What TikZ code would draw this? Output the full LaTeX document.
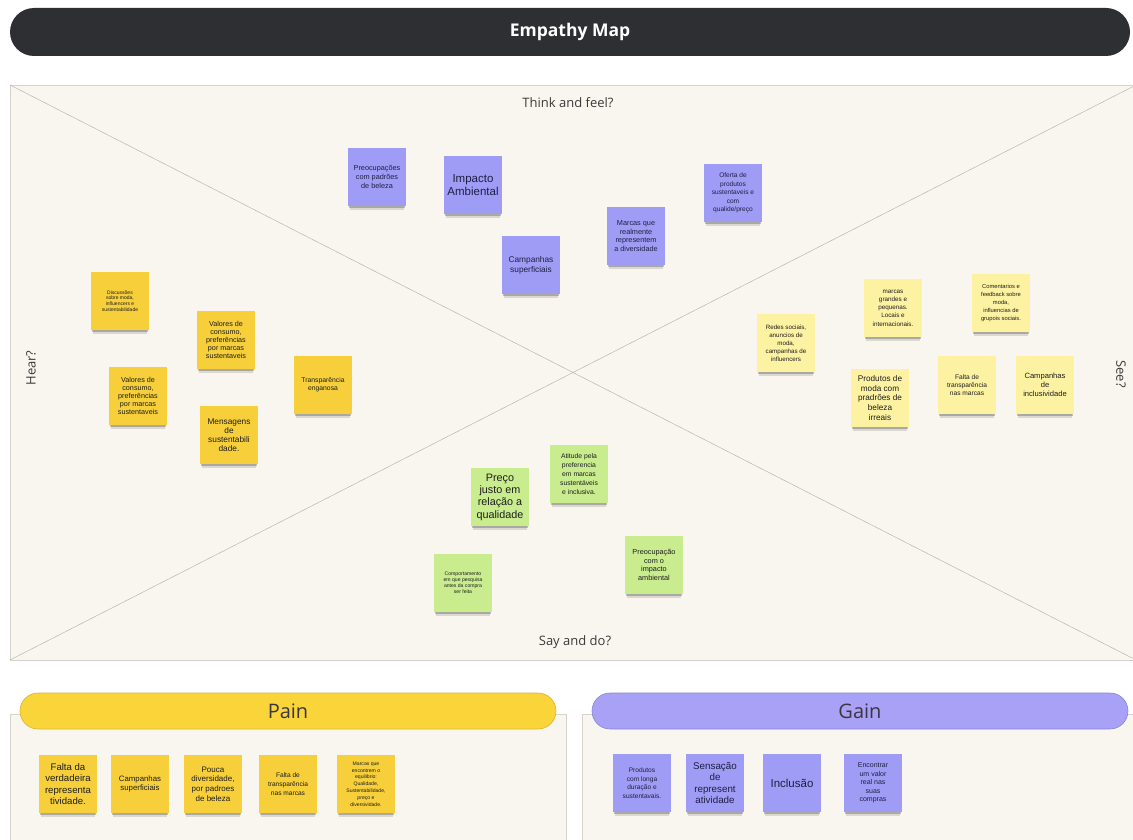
\documentclass[tikz,border=0pt]{standalone}
\usepackage{fontspec}
\setmainfont{Liberation Sans}
\newfontfamily\uifont{Open Sans}
\usetikzlibrary{shadows}

\definecolor{barDark}{HTML}{2E2F33}
\definecolor{board}{HTML}{F9F6EF}
\definecolor{boardLine}{HTML}{D6D3CC}
\definecolor{diagLine}{HTML}{B9B6AF}
\definecolor{labelInk}{HTML}{3A3A3A}
\definecolor{noteLav}{HTML}{9E9CF4}
\definecolor{noteYel}{HTML}{F6CF3A}
\definecolor{notePale}{HTML}{FCF2A2}
\definecolor{noteGrn}{HTML}{C8EC8E}
\definecolor{inkLav}{HTML}{1F1F45}
\definecolor{inkDark}{HTML}{1E1E1E}
\definecolor{painFill}{HTML}{F9D53A}
\definecolor{painEdge}{HTML}{D8B42C}
\definecolor{gainFill}{HTML}{A9A1F6}
\definecolor{gainEdge}{HTML}{8A83D6}
\definecolor{headInk}{HTML}{3A3640}

\begin{document}
\begin{tikzpicture}[x=1pt,y=-1pt,
  note/.style={minimum width=58pt,minimum height=58pt,inner sep=1pt,align=center,
    drop shadow={shadow xshift=0pt,shadow yshift=-6.5pt,shadow scale=0.92,opacity=0.12,fill=black},
    drop shadow={shadow xshift=0pt,shadow yshift=-4pt,shadow scale=0.95,opacity=0.22,fill=black}},
  lav/.style={note,fill=noteLav,text=inkLav},
  yel/.style={note,fill=noteYel,text=inkDark},
  pale/.style={note,fill=notePale,text=inkDark},
  grn/.style={note,fill=noteGrn,text=inkDark},
  fs/.style n args={2}{font=\fontsize{#1}{#2}\selectfont},
  quad/.style={font=\uifont\fontsize{13}{15}\selectfont,text=labelInk},
  panel/.style={fill=board,draw=boardLine,line width=0.6pt},
  edge/.style={draw=boardLine,line width=0.6pt},
  header/.style={minimum width=536pt,minimum height=36pt,rounded corners=18pt,line width=0.6pt,
    font=\uifont\fontsize{20}{22}\selectfont,text=headInk},
]
\clip (0,0) rectangle (1133,840);
\fill[white] (0,0) rectangle (1133,840);

% title bar
\node (title) [fill=barDark,minimum width=1120pt,minimum height=48pt,rounded corners=24pt,
  text=white,font=\uifont\bfseries\fontsize{17.5}{19}\selectfont] at (570,32) {Empathy Map};

% main board with its two diagonals
\draw[panel] (10,85) rectangle (1136,660);
\coordinate (tl) at (10,85);
\coordinate (tr) at (1136,85);
\coordinate (bl) at (10,660);
\coordinate (br) at (1136,660);
\draw[diagLine,line width=0.5pt] (tl) -- (br);
\draw[diagLine,line width=0.5pt] (bl) -- (tr);

% quadrant captions
\node (think) [quad] at (568,103) {Think and feel?};
\node (say)   [quad] at (575,642) {Say and do?};
\node (hear)  [quad,rotate=90]  at (31,368) {Hear?};
\node (see)   [quad,rotate=-90] at (1121,374) {See?};

% think and feel
\node (t1) [lav,fs={7.3}{8.6}] at (377,177) {Preocupações\\com padrões\\de beleza};
\node (t2) [lav,fs={11.5}{12.6}] at (473,185) {Impacto\\Ambiental};
\node (t3) [lav,fs={8.3}{9.8}] at (531,265) {Campanhas\\superficiais};
\node (t4) [lav,fs={7.3}{8.7}] at (636,236) {Marcas que\\realmente\\representem\\a diversidade};
\node (t5) [lav,fs={6.6}{8.5}] at (733,193) {Oferta de\\produtos\\sustentaveis e\\com\\qualide/preço};

% hear
\node (h1) [yel,fs={5}{5.6}] at (120,301) {Discussões\\sobre moda,\\influencers e\\sustentabilidade};
\node (h2) [yel,fs={7.2}{8.1}] at (226,340) {Valores de\\consumo,\\preferências\\por marcas\\sustentaveis};
\node (h3) [yel,fs={7.2}{8.1}] at (138,396) {Valores de\\consumo,\\preferências\\por marcas\\sustentaveis};
\node (h4) [yel,fs={8.3}{9.1}] at (229,435) {Mensagens\\de\\sustentabili\\dade.};
\node (h5) [yel,fs={6.8}{8.3}] at (323,385) {Transparência\\enganosa};

% see
\node (s1) [pale,fs={6.2}{8}] at (786,343) {Redes sociais,\\anuncios de\\moda,\\campanhas de\\influencers};
\node (s2) [pale,fs={6.3}{8.2}] at (893,308) {marcas\\grandes e\\pequenas.\\Locais e\\internacionais.};
\node (s3) [pale,fs={8.2}{9.6}] at (880,398) {Produtos de\\moda com\\pradrões de\\beleza\\irreais};
\node (s4) [pale,fs={5.8}{8.1}] at (1001,303) {Comentarios e\\feedback sobre\\moda,\\influencias de\\grupois sociais.};
\node (s5) [pale,fs={6.6}{8.3}] at (967,385) {Falta de\\transparência\\nas marcas};
\node (s6) [pale,fs={7.6}{9}] at (1045,385) {Campanhas\\de\\inclusividade};

% say and do
\node (d1) [grn,fs={10.8}{12.3}] at (500,497) {Preço\\justo em\\relação a\\qualidade};
\node (d2) [grn,fs={6.8}{9}] at (579,474) {Atitude pela\\preferencia\\em marcas\\sustentáveis\\e inclusiva.};
\node (d3) [grn,fs={5.1}{5.9}] at (463,583) {Comportamento\\em que pesquisa\\antes da compra\\ser feita};
\node (d4) [grn,fs={7.3}{8.6}] at (654,565) {Preocupação\\com o\\impacto\\ambiental};

% pain panel
\fill[board] (10,714) rectangle (566,850);
\draw[edge] (10,850) -- (10,714) -- (566,714) -- (566,850);
\node (pain) [header,fill=painFill,draw=painEdge] at (288,711) {Pain};
\node (p1) [yel,fs={9.6}{11.2}] at (68,784) {Falta da\\verdadeira\\representa\\tividade.};
\node (p2) [yel,fs={7.8}{9.4}] at (140,784) {Campanhas\\superficiais};
\node (p3) [yel,fs={8}{9.8}] at (213,784) {Pouca\\diversidade,\\por padroes\\de beleza};
\node (p4) [yel,fs={6.6}{8.8}] at (288,784) {Falta de\\transparência\\nas marcas};
\node (p5) [yel,fs={5.1}{6.8}] at (366,784) {Marcas que\\encontrem o\\equilibrio:\\Qualidade,\\Sustentabilidade,\\preço e\\diversividade.};

% gain panel
\fill[board] (582,714) rectangle (1140,850);
\draw[edge] (582,850) -- (582,714) -- (1140,714);
\node (gain) [header,fill=gainFill,draw=gainEdge] at (860,711) {Gain};
\node (g1) [lav,fs={6.6}{8.6}] at (642,783) {Produtos\\com longa\\duração e\\sustentavais.};
\node (g2) [lav,fs={9.8}{11.6}] at (715,783) {Sensação\\de\\represent\\atividade};
\node (g3) [lav,fs={11.5}{13}] at (792,783) {Inclusão};
\node (g4) [lav,fs={7}{8.6}] at (873,783) {Encontrar\\um valor\\real nas\\suas\\compras};
\end{tikzpicture}
\end{document}
